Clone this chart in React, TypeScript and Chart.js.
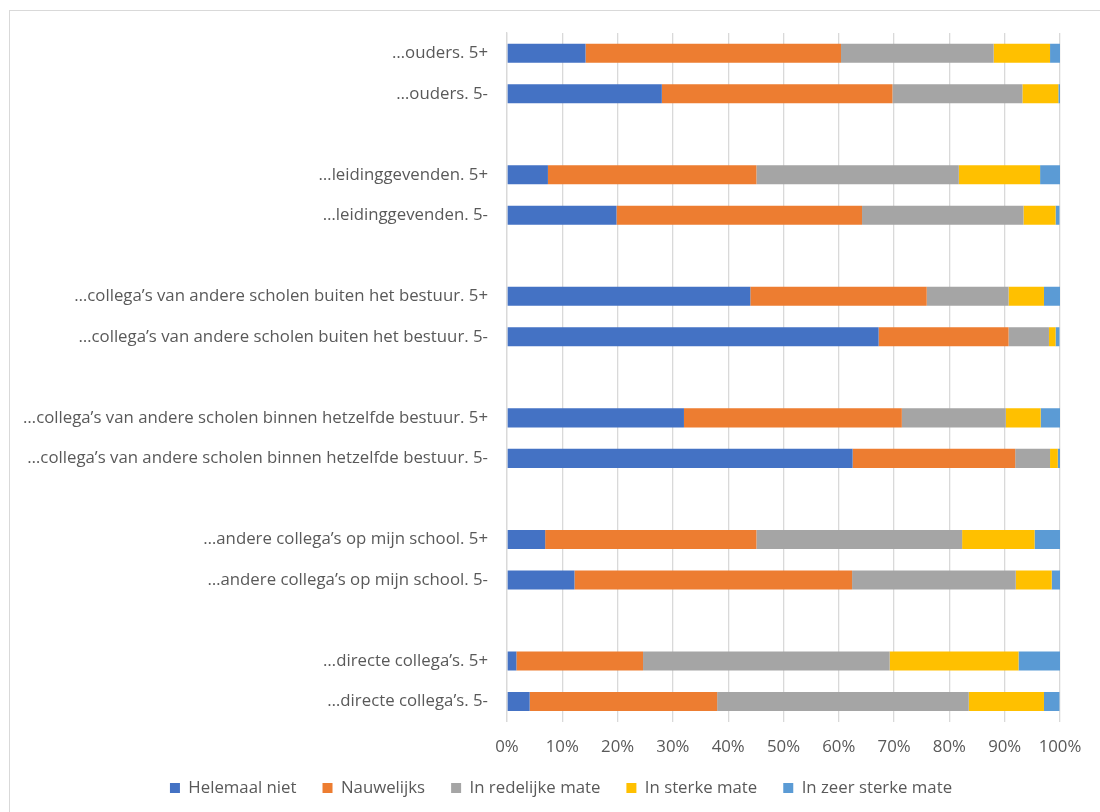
import React, { useEffect, useRef } from "react";
import { Chart, registerables } from "chart.js";

Chart.register(...registerables);

const categories: string[] = [
  "…ouders. 5+",
  "…ouders. 5-",
  "",
  "…leidinggevenden. 5+",
  "…leidinggevenden. 5-",
  "",
  "…collega’s van andere scholen buiten het bestuur. 5+",
  "…collega’s van andere scholen buiten het bestuur. 5-",
  "",
  "…collega’s van andere scholen binnen hetzelfde bestuur. 5+",
  "…collega’s van andere scholen binnen hetzelfde bestuur. 5-",
  "",
  "…andere collega’s op mijn school. 5+",
  "…andere collega’s op mijn school. 5-",
  "",
  "…directe collega’s. 5+",
  "…directe collega’s. 5-",
];

const helemaalNiet = [14.2, 28.0, null, 7.4, 19.8, null, 44.0, 67.2, null, 32.0, 62.5, null, 6.9, 12.2, null, 1.7, 4.1];
const nauwelijks = [46.2, 41.7, null, 37.7, 44.4, null, 31.9, 23.5, null, 39.4, 29.4, null, 38.2, 50.2, null, 22.9, 33.9];
const redelijkeMate = [27.6, 23.5, null, 36.6, 29.2, null, 14.8, 7.3, null, 18.8, 6.3, null, 37.2, 29.6, null, 44.6, 45.5];
const sterkeMate = [10.2, 6.5, null, 14.7, 5.8, null, 6.4, 1.2, null, 6.3, 1.4, null, 13.1, 6.5, null, 23.3, 13.6];
const zeerSterkeMate = [1.8, 0.3, null, 3.6, 0.7, null, 2.9, 0.7, null, 3.5, 0.4, null, 4.6, 1.5, null, 7.5, 2.8];

const seriesNames = ["Helemaal niet", "Nauwelijks", "In redelijke mate", "In sterke mate", "In zeer sterke mate"];
const seriesColors = ["#4472C4", "#ED7D31", "#A5A5A5", "#FFC000", "#5B9BD5"];
const xTicks = [0, 10, 20, 30, 40, 50, 60, 70, 80, 90, 100];

const FONT = "'Open Sans', sans-serif";
const FS = 16.8;

const legendShift = {
  id: "legendShift",
  afterLayout(chart: any) {
    if (chart.legend) {
      chart.legend.left += 31;
      chart.legend.right += 31;
    }
  },
};

export default function App() {
  const ref = useRef<HTMLCanvasElement | null>(null);

  useEffect(() => {
    if (!ref.current) return;
    const seriesData = [helemaalNiet, nauwelijks, redelijkeMate, sterkeMate, zeerSterkeMate];
    const chart = new Chart(ref.current, {
      type: "bar",
      data: {
        labels: categories,
        datasets: seriesNames.map((name, i) => ({
          label: name,
          data: seriesData[i],
          backgroundColor: seriesColors[i],
          borderWidth: 0,
          categoryPercentage: 1,
          barPercentage: 0.47,
        })),
      },
      plugins: [legendShift],
      options: {
        indexAxis: "y",
        responsive: false,
        animation: false,
        maintainAspectRatio: false,
        layout: { padding: { left: 0, right: 40, top: 33, bottom: 5.5 } },
        plugins: {
          legend: {
            position: "bottom",
            labels: {
              boxWidth: 10,
              boxHeight: 10,
              color: "#595959",
              font: { family: FONT, size: FS },
              padding: 26,
            },
          },
          tooltip: { enabled: false },
        },
        scales: {
          x: {
            stacked: true,
            min: 0,
            max: 100,
            afterBuildTicks: (scale: any) => {
              scale.ticks = xTicks.map((v) => ({ value: v }));
            },
            afterFit: (scale: any) => {
              scale.height = 32;
            },
            ticks: {
              color: "#595959",
              font: { family: FONT, size: FS },
              padding: 15,
              callback: (v: any) => v + "%",
            },
            grid: { color: "#d9d9d9", lineWidth: 1.3, drawTicks: false },
            border: { display: false },
          },
          y: {
            stacked: true,
            afterFit: (scale: any) => {
              scale.width = 507;
            },
            ticks: {
              color: "#595959",
              font: { family: FONT, size: FS },
              padding: 19,
              autoSkip: false,
            },
            grid: { display: false, drawTicks: false },
            border: { display: true, color: "#d9d9d9", width: 1.3 },
          },
        },
      },
    });
    return () => chart.destroy();
  }, []);

  return (
    <div>
      <div
        style={{
          position: "fixed",
          left: 9,
          top: 10,
          width: 1200,
          height: 900,
          border: "1px solid #d9d9d9",
          boxSizing: "border-box",
          pointerEvents: "none",
        }}
      />
      <canvas
        ref={ref}
        width={1100}
        height={812}
        style={{ position: "fixed", left: 0, top: 0, width: 1100, height: 812 }}
      />
    </div>
  );
}
